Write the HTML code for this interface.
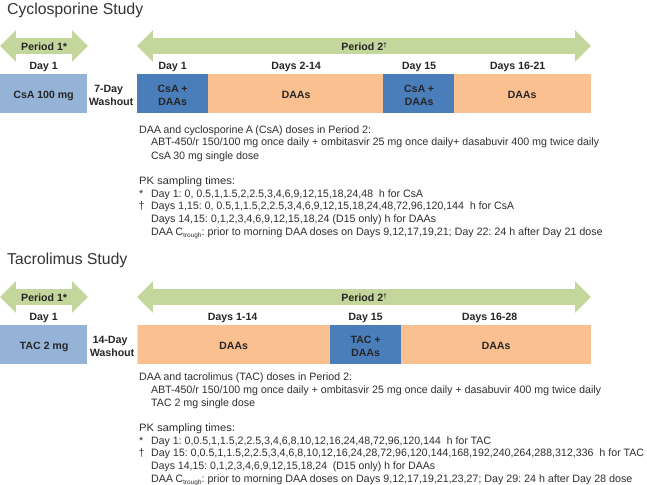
<!DOCTYPE html>
<html lang="en">
<head>
<meta charset="utf-8">
<title>Cyclosporine and Tacrolimus Study Designs</title>
<style>
html,body{margin:0;padding:0;background:#fff;width:647px;height:485px;overflow:hidden}
svg{display:block;filter:blur(0.35px)}
text{font-family:"Liberation Sans",Arial,sans-serif;text-rendering:geometricPrecision}
.title{font-size:15.8px;fill:#333}
.b{font-size:10.6px;font-weight:bold;fill:#262626;text-anchor:middle}
.t{font-size:10.7px;fill:#2f2f2f}
.sub{font-size:6.5px}
</style>
</head>
<body>
<svg width="647" height="485" viewBox="0 0 647 485" xmlns="http://www.w3.org/2000/svg">
<rect width="647" height="485" fill="#fff"/>

<g>
<text class="title" x="7" y="14">Cyclosporine Study</text>
<polygon points="0,46 16,30 16,38 72,38 72,30 88,46 72,62 72,54 16,54 16,62" fill="#c3d69b"/>
<polygon points="137,46 153,30 153,38 575,38 575,30 591,46 575,62 575,54 153,54 153,62" fill="#c3d69b"/>
<text class="b" x="44" y="50">Period 1*</text>
<text class="b" x="364" y="50">Period 2<tspan font-size="6.5" dy="-3">†</tspan></text>
<text class="b" x="43.500" y="69">Day 1</text>
<text class="b" x="172.500" y="69">Day 1</text>
<text class="b" x="296" y="69">Days 2-14</text>
<text class="b" x="419" y="69">Day 15</text>
<text class="b" x="517.500" y="69">Days 16-21</text>
<rect x="0" y="74" width="87" height="39" fill="#95b3d7"/>
<rect x="137" y="74" width="71" height="39" fill="#4a7ebb"/>
<rect x="208" y="74" width="175" height="39" fill="#fac090"/>
<rect x="383" y="74" width="71" height="39" fill="#4a7ebb"/>
<rect x="454" y="74" width="137" height="39" fill="#fac090"/>
<text class="b" x="43.500" y="98">CsA 100 mg</text>
<text class="b" x="108.500" y="92">7-Day</text>
<text class="b" x="111" y="105">Washout</text>
<text class="b" x="172.500" y="92">CsA +</text>
<text class="b" x="172.500" y="105">DAAs</text>
<text class="b" x="296" y="98">DAAs</text>
<text class="b" x="419" y="92">CsA +</text>
<text class="b" x="419" y="105">DAAs</text>
<text class="b" x="522" y="98">DAAs</text>

<g>
<text class="t" x="139" y="133" textLength="232" lengthAdjust="spacingAndGlyphs">DAA and cyclosporine A (CsA) doses in Period 2:</text>
<text class="t" x="151" y="145" textLength="448" lengthAdjust="spacingAndGlyphs">ABT-450/r 150/100 mg once daily + ombitasvir 25 mg once daily+ dasabuvir 400 mg twice daily</text>
<text class="t" x="151" y="159" textLength="108" lengthAdjust="spacingAndGlyphs">CsA 30 mg single dose</text>
<text class="t" x="139" y="184" textLength="96" lengthAdjust="spacingAndGlyphs">PK sampling times:</text>
<text class="t" x="139" y="197">*</text>
<text class="t" x="151" y="197" textLength="272" lengthAdjust="spacingAndGlyphs" xml:space="preserve">Day 1: 0, 0.5,1,1.5,2,2.5,3,4,6,9,12,15,18,24,48  h for CsA</text>
<text class="t" x="138.500" y="209">†</text>
<text class="t" x="151" y="209" textLength="363" lengthAdjust="spacingAndGlyphs" xml:space="preserve">Days 1,15: 0, 0.5,1,1.5,2,2.5,3,4,6,9,12,15,18,24,48,72,96,120,144  h for CsA</text>
<text class="t" x="151" y="222" textLength="285" lengthAdjust="spacingAndGlyphs">Days 14,15: 0,1,2,3,4,6,9,12,15,18,24 (D15 only) h for DAAs</text>
<text class="t" x="151" y="235">DAA C<tspan class="sub" dy="2">trough</tspan><tspan dy="-2">: prior to morning DAA doses on Days 9,12,17,19,21; Day 22: 24 h after Day 21 dose</tspan></text>
</g>
</g>

<g>
<text class="title" x="7" y="264">Tacrolimus Study</text>
<polygon points="0,297 16,281 16,289 72,289 72,281 88,297 72,313 72,305 16,305 16,313" fill="#c3d69b"/>
<polygon points="137,297 153,281 153,289 575,289 575,281 591,297 575,313 575,305 153,305 153,313" fill="#c3d69b"/>
<text class="b" x="44" y="301">Period 1*</text>
<text class="b" x="364" y="301">Period 2<tspan font-size="6.5" dy="-3">†</tspan></text>
<text class="b" x="43.500" y="320">Day 1</text>
<text class="b" x="232.500" y="320">Days 1-14</text>
<text class="b" x="365.500" y="320">Day 15</text>
<text class="b" x="489.500" y="320">Days 16-28</text>
<rect x="0" y="325" width="87" height="39" fill="#95b3d7"/>
<rect x="137.500" y="325" width="192.500" height="39" fill="#fac090"/>
<rect x="330" y="325" width="71" height="39" fill="#4a7ebb"/>
<rect x="401" y="325" width="190" height="39" fill="#fac090"/>
<text class="b" x="44" y="349">TAC 2 mg</text>
<text class="b" x="110" y="343">14-Day</text>
<text class="b" x="112" y="356">Washout</text>
<text class="b" x="233.500" y="349">DAAs</text>
<text class="b" x="365.500" y="343">TAC +</text>
<text class="b" x="365.500" y="356">DAAs</text>
<text class="b" x="496" y="349">DAAs</text>

<g>
<text class="t" x="139" y="380" textLength="213" lengthAdjust="spacingAndGlyphs">DAA and tacrolimus (TAC) doses in Period 2:</text>
<text class="t" x="151" y="393" textLength="450" lengthAdjust="spacingAndGlyphs">ABT-450/r 150/100 mg once daily + ombitasvir 25 mg once daily + dasabuvir 400 mg twice daily</text>
<text class="t" x="151" y="406" textLength="104" lengthAdjust="spacingAndGlyphs">TAC 2 mg single dose</text>
<text class="t" x="139" y="431" textLength="96" lengthAdjust="spacingAndGlyphs">PK sampling times:</text>
<text class="t" x="139" y="444">*</text>
<text class="t" x="151" y="444" textLength="340" lengthAdjust="spacingAndGlyphs" xml:space="preserve">Day 1: 0,0.5,1,1.5,2,2.5,3,4,6,8,10,12,16,24,48,72,96,120,144  h for TAC</text>
<text class="t" x="138.500" y="456">†</text>
<text class="t" x="151" y="456" textLength="493" lengthAdjust="spacingAndGlyphs" xml:space="preserve">Day 15: 0,0.5,1,1.5,2,2.5,3,4,6,8,10,12,16,24,28,72,96,120,144,168,192,240,264,288,312,336  h for TAC</text>
<text class="t" x="151" y="469" textLength="284" lengthAdjust="spacingAndGlyphs" xml:space="preserve">Days 14,15: 0,1,2,3,4,6,9,12,15,18,24  (D15 only) h for DAAs</text>
<text class="t" x="151" y="482">DAA C<tspan class="sub" dy="2">trough</tspan><tspan dy="-2">: prior to morning DAA doses on Days 9,12,17,19,21,23,27; Day 29: 24 h after Day 28 dose</tspan></text>
</g>
</g>
</svg>
</body>
</html>
